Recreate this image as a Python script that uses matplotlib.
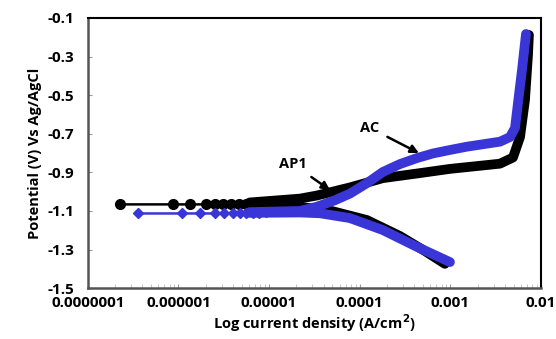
import numpy as np
import matplotlib
matplotlib.use('Agg')
from matplotlib import pyplot as plt
from matplotlib.ticker import FixedLocator, LogLocator, NullFormatter

plt.rcParams['font.family'] = ['Open Sans', 'DejaVu Sans']
plt.rcParams['font.weight'] = 'bold'

# AP1 (black) - low current region near Ecorr, drawn with markers
ap1_dip_i = [2.25e-7, 8.7e-7, 1.34e-6, 2.0e-6, 2.5e-6, 3.1e-6, 3.8e-6, 4.6e-6, 5.6e-6, 6.8e-6, 8.2e-6, 1.0e-5]
ap1_dip_v = [-1.066, -1.066, -1.066, -1.066, -1.066, -1.066, -1.066, -1.065, -1.064, -1.062, -1.061, -1.060]
# AP1 anodic branch
ap1_an_i = [6.1e-6, 2.19e-5, 3.37e-5, 7.8e-5, 1.8e-4, 4.28e-4, 9.9e-4, 3.53e-3, 4.91e-3, 5.87e-3, 6.66e-3, 7.19e-3, 7.36e-3]
ap1_an_v = [-1.056, -1.036, -1.020, -0.978, -0.930, -0.906, -0.882, -0.855, -0.823, -0.717, -0.525, -0.292, -0.188]
# AP1 cathodic branch
ap1_ca_i = [6.1e-6, 2.19e-5, 3.64e-5, 5.0e-5, 1.2e-4, 2.78e-4, 5.25e-4, 8.7e-4]
ap1_ca_v = [-1.066, -1.080, -1.090, -1.101, -1.147, -1.230, -1.308, -1.374]

# AC (blue)
ac_dip_i = [3.6e-7, 1.08e-6, 1.72e-6, 2.5e-6, 3.2e-6, 4.0e-6, 4.8e-6, 5.6e-6, 6.6e-6, 7.8e-6, 9.2e-6]
ac_dip_v = [-1.113, -1.113, -1.113, -1.113, -1.113, -1.113, -1.112, -1.111, -1.110, -1.109, -1.108]
ac_an_i = [6.1e-6, 2.19e-5, 3.37e-5, 5.3e-5, 7.8e-5, 1.2e-4, 1.8e-4, 2.78e-4, 4.28e-4, 6.43e-4,
           9.9e-4, 1.52e-3, 3.53e-3, 4.55e-3, 5.17e-3, 5.57e-3, 6.17e-3, 6.83e-3]
ac_an_v = [-1.106, -1.100, -1.078, -1.045, -1.010, -0.956, -0.898, -0.857, -0.826, -0.802,
           -0.784, -0.767, -0.741, -0.717, -0.670, -0.541, -0.370, -0.183]
ac_ca_i = [6.1e-6, 2.19e-5, 3.64e-5, 7.8e-5, 1.8e-4, 4.28e-4, 9.9e-4]
ac_ca_v = [-1.110, -1.108, -1.112, -1.137, -1.199, -1.286, -1.365]

xticks = [1e-7, 1e-6, 1e-5, 1e-4, 1e-3, 1e-2]
xticklabels = ['0.0000001', '0.000001', '0.00001', '0.0001', '0.001', '0.01']
yticks = [-1.5, -1.3, -1.1, -0.9, -0.7, -0.5, -0.3, -0.1]

BLACK = '#000000'
BLUE = '#3a35d6'

fig = plt.figure(figsize=(5.56, 3.39), dpi=100)
ax = fig.add_axes([0.158, 0.150, 0.815, 0.797])

# thick bands (dense data)
ax.plot(ap1_an_i, ap1_an_v, color=BLACK, lw=7, solid_capstyle='round', solid_joinstyle='round', zorder=2)
ax.plot(ap1_ca_i, ap1_ca_v, color=BLACK, lw=7, solid_capstyle='round', solid_joinstyle='round', zorder=2)
ax.plot(ap1_dip_i, ap1_dip_v, color=BLACK, lw=1.8, marker='o', ms=7, zorder=2)

ax.plot(ac_an_i, ac_an_v, color=BLUE, lw=7, solid_capstyle='round', solid_joinstyle='round', zorder=3)
ax.plot(ac_ca_i, ac_ca_v, color=BLUE, lw=7, solid_capstyle='round', solid_joinstyle='round', zorder=3)
ax.plot(ac_dip_i, ac_dip_v, color=BLUE, lw=1.8, marker='D', ms=5, zorder=3)

ax.set_xscale('log')
ax.set_xlim(1e-7, 1e-2)
ax.set_ylim(-1.5, -0.1)
ax.xaxis.set_major_locator(FixedLocator(xticks))
ax.set_xticklabels(xticklabels)
ax.xaxis.set_minor_locator(LogLocator(base=10, subs=np.arange(2, 10)))
ax.xaxis.set_minor_formatter(NullFormatter())
ax.set_yticks(yticks)
ax.set_yticklabels([f'{v:.1f}' for v in yticks])

ax.tick_params(axis='both', which='major', direction='in', length=3, color='#999999',
               labelsize=11)
ax.tick_params(axis='x', which='major', pad=6)
ax.tick_params(axis='y', which='major', pad=10)
ax.tick_params(axis='x', which='minor', direction='in', length=3, color='#bbbbbb')
for s in ['top', 'right']:
    ax.spines[s].set_color('black')
    ax.spines[s].set_linewidth(1.5)
for s in ['left', 'bottom']:
    ax.spines[s].set_color('#555555')
    ax.spines[s].set_linewidth(1.8)

ax.set_xlabel('Log current density (A/cm$^\\mathbf{2}$)', fontsize=10.5, fontweight='bold', labelpad=1)
ax.set_ylabel('Potential (V) Vs Ag/AgCl', fontsize=10.5, fontweight='bold', labelpad=4)

ax.annotate('AP1', xy=(4.7e-5, -0.992), xytext=(1.83e-5, -0.857), fontsize=10.5, fontweight='bold',
            ha='center', va='center',
            arrowprops=dict(arrowstyle='-|>', color='black', lw=1.8, mutation_scale=12,
                            shrinkA=4, shrinkB=0))
ax.annotate('AC', xy=(4.5e-4, -0.800), xytext=(1.3e-4, -0.670), fontsize=10.5, fontweight='bold',
            ha='center', va='center',
            arrowprops=dict(arrowstyle='-|>', color='black', lw=1.8, mutation_scale=12,
                            shrinkA=4, shrinkB=0))

fig.savefig('out.png', dpi=100)
